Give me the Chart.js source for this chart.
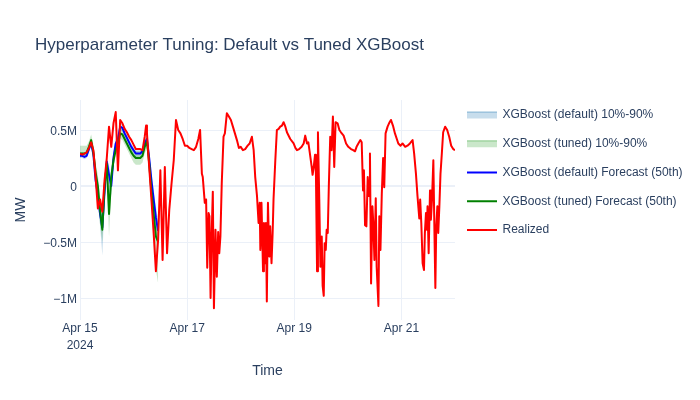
<!DOCTYPE html>
<html>
<head>
<meta charset="utf-8">
<title>Hyperparameter Tuning: Default vs Tuned XGBoost</title>
<script src="https://cdn.jsdelivr.net/npm/chart.js@4.4.1/dist/chart.umd.min.js"></script>
<style>
    html, body { margin: 0; padding: 0; background: #fff; }
    #wrap { width: 700px; height: 400px; }
</style>
</head>
<body>
<div id="wrap"><canvas id="tuningChart" width="700" height="400"></canvas></div>
<script>
        // Text
        const chartTitle = 'Hyperparameter Tuning: Default vs Tuned XGBoost';
        const xAxisTitle = 'Time';
        const yAxisTitle = 'MW';

        // Ticks (hours since Apr 15 2024 00:00)
        const xTickHours = [0, 48, 96, 144];
        const xTickLabels = [['Apr 15', '2024'], 'Apr 17', 'Apr 19', 'Apr 21'];
        const yTickValues = [-1000000, -500000, 0, 500000];
        const yTickLabels = ['\u22121M', '\u22120.5M', '0', '0.5M'];

        // Forecast horizon (hours)
        const forecastHours = [0, 1, 2, 3, 4, 5, 6, 7, 8, 9, 10, 11, 12, 13, 14, 15, 16, 17, 18, 19, 20, 21, 22, 23, 24, 25, 26, 27, 28, 29, 30, 31, 32, 33, 34, 35];

        const defaultP10 = [250000, 250000, 240000, 250000, 310000, 360000, 250000, 0, -150000, -350000, -620000, -150000, 170000, 0, -80000, 200000, 340000, 390000, 500000, 490000, 440000, 400000, 360000, 320000, 290000, 260000, 260000, 260000, 280000, 350000, 390000, 200000, -20000, -220000, -400000, -500000];
        const defaultP90 = [300000, 300000, 290000, 300000, 360000, 410000, 310000, 100000, 0, -150000, -300000, 50000, 260000, 180000, 80000, 300000, 420000, 460000, 570000, 550000, 500000, 460000, 420000, 380000, 350000, 320000, 320000, 320000, 340000, 410000, 450000, 300000, 120000, -30000, -180000, -300000];
        const defaultP50 = [270000, 270000, 260000, 270000, 330000, 380000, 280000, 50000, -80000, -250000, -370000, -50000, 220000, 100000, 0, 250000, 380000, 420000, 530000, 520000, 470000, 430000, 390000, 350000, 320000, 290000, 290000, 290000, 310000, 380000, 420000, 250000, 50000, -120000, -280000, -400000];

        const tunedP10 = [260000, 260000, 260000, 270000, 310000, 370000, 240000, 20000, -120000, -350000, -500000, -150000, 120000, -450000, -50000, 170000, 270000, 330000, 420000, 410000, 370000, 330000, 290000, 250000, 210000, 190000, 190000, 190000, 210000, 290000, 340000, 100000, -200000, -450000, -750000, -870000];
        const tunedP90 = [360000, 360000, 360000, 360000, 400000, 460000, 370000, 200000, 100000, -100000, -250000, 100000, 280000, -50000, 180000, 300000, 380000, 440000, 530000, 520000, 480000, 440000, 400000, 360000, 330000, 310000, 310000, 310000, 330000, 410000, 470000, 280000, 50000, -100000, -300000, -400000];
        const tunedP50 = [290000, 290000, 290000, 300000, 350000, 410000, 300000, 120000, 0, -220000, -390000, 0, 200000, -250000, 80000, 230000, 320000, 380000, 470000, 460000, 420000, 380000, 340000, 300000, 270000, 250000, 250000, 250000, 270000, 350000, 400000, 200000, -50000, -250000, -450000, -500000];

        // Realized net load
        const realizedHours = [
            0, 1, 2, 3, 4, 5, 6, 7, 8, 9, 10, 11, 12, 13, 14, 15, 16, 17, 18, 19, 20, 21, 22, 23,
            24, 25, 26, 27, 28, 29, 29.6, 30, 31, 32, 33, 34, 35, 36, 37, 38, 39, 40, 41, 42, 43, 44, 45, 46, 47,
            48, 49, 50, 51, 52, 53, 53.8, 54.6, 55, 55.9, 56.5, 57, 57.6, 58, 58.5, 59, 59.5, 60, 60.7, 61.3, 61.9, 62.4, 62.9, 63.5, 64.3, 64.9, 65.8, 66.7, 67.6, 68.5, 69.4, 70.3, 71.2,
            72, 73, 74, 75.1, 76, 77, 77.8, 78.5, 79.3, 80, 80.5, 80.8, 81.3, 82, 82.4, 82.8, 83.3, 83.7, 84.2, 84.8, 85.2, 85.8, 86.3, 86.7, 87.5, 88.2, 89, 89.7, 90.5, 91.2, 92, 92.7, 94.2, 95.7, 96.5,
            97.2, 98.2, 99.3, 100.2, 100.9, 101.7, 102.3, 103, 103.8, 104.2, 104.7, 105.3, 105.7, 106.2, 106.6, 107.2, 107.7, 108.3, 108.7, 109.2, 109.6, 110.1, 110.5, 111, 111.5, 112.1, 112.7, 113.3, 113.9, 114.5, 115.4, 116.2, 116.9, 118.1, 119.2, 120.2,
            121.4, 122.4, 123.2, 123.9, 124.7, 125.6, 126.2, 126.8, 127.2, 127.7, 128.3, 128.9, 129.5, 129.9, 130.4, 131, 131.4, 131.9, 132.5, 132.9, 133.7, 134.1, 134.6, 135.2, 135.8, 136.3, 136.9, 137.8, 138.7, 139.3, 140.2, 141.1, 142.6, 143.6,
            144.5, 145.7, 146.7, 147.8, 149, 149.7, 150.5, 151.2, 152, 152.4, 152.9, 153.5, 154.1, 154.5, 155, 155.4, 155.7, 156.2, 156.8, 157.2, 157.7, 158.3, 158.7, 159.2, 159.6, 160.1, 160.5, 161, 161.5, 162.1, 162.7, 163.6, 164.5, 165.4, 166.3, 167.2, 168
        ];
        const realizedMW = [
            290000, 280000, 290000, 300000, 340000, 390000, 320000, 80000, -200000, -120000, -230000, 50000, 250000, 530000, 350000, 560000, 660000, 140000, 590000, 560000, 510000, 480000, 440000, 410000,
            370000, 330000, 330000, 330000, 320000, 440000, 540000, 470000, 170000, -120000, -420000, -760000, -480000, 140000, -660000, 170000, -600000, -210000, 20000, 230000, 590000, 500000, 470000, 420000, 360000,
            360000, 340000, 330000, 320000, 350000, 420000, 500000, 110000, 80000, -150000, -120000, -730000, -240000, -270000, -1000000, -420000, -50000, -1090000, -390000, -810000, -410000, -600000, -450000, 20000, 440000, 470000, 650000, 620000, 590000, 530000, 470000, 410000, 340000,
            350000, 320000, 330000, 360000, 380000, 440000, 320000, 80000, -90000, -330000, -150000, -570000, -150000, -760000, -330000, -690000, -330000, -1030000, -150000, -630000, -360000, -690000, -420000, -120000, 230000, 500000, 510000, 530000, 540000, 570000, 530000, 480000, 420000, 380000, 340000,
            320000, 330000, 350000, 380000, 450000, 380000, 390000, 290000, 170000, 100000, 170000, 280000, 100000, -760000, 480000, -120000, -720000, -450000, -890000, -980000, -510000, -570000, -390000, -420000, 20000, 440000, 320000, 620000, 170000, 570000, 560000, 500000, 480000, 450000, 380000, 350000,
            330000, 320000, 310000, 350000, 380000, 410000, 390000, -40000, 140000, -350000, -360000, 80000, -90000, 290000, -870000, -180000, -330000, -660000, -110000, -720000, -1070000, -270000, -570000, -70000, 250000, -10000, 470000, 530000, 570000, 590000, 540000, 470000, 380000, 360000,
            380000, 350000, 360000, 380000, 410000, 290000, 110000, -90000, -290000, -120000, -330000, -690000, -750000, -420000, -240000, -390000, -180000, -600000, -40000, -300000, -120000, 230000, -300000, -910000, -360000, -180000, -420000, -180000, 110000, 290000, 480000, 530000, 500000, 440000, 360000, 330000, 320000
        ];

        const fontFamily = '"Liberation Sans", Arial, sans-serif';
        const textColor = '#2a3f5f';
        const gridColor = '#ebf0f8';

        Chart.defaults.font.family = fontFamily;
        Chart.defaults.color = textColor;

        function toPoints(xs, ys) {
            return xs.map((x, i) => ({ x: x, y: ys[i] }));
        }

        // titles + right-hand legend drawn plotly style
        const plotlyDecor = {
            id: 'plotlyDecor',
            afterDraw(chart) {
                const ctx = chart.ctx;
                const area = chart.chartArea;
                ctx.save();
                ctx.fillStyle = textColor;
                ctx.textBaseline = 'middle';
                ctx.textAlign = 'left';
                ctx.font = '17px ' + fontFamily;
                ctx.fillText(chartTitle, 35, 45);

                ctx.font = '14px ' + fontFamily;
                ctx.textAlign = 'center';
                ctx.fillText(xAxisTitle, (area.left + area.right) / 2, 371);
                ctx.save();
                ctx.translate(21, (area.top + area.bottom) / 2);
                ctx.rotate(-Math.PI / 2);
                ctx.fillText(yAxisTitle, 0, 0);
                ctx.restore();

                ctx.textAlign = 'left';
                ctx.font = '12px ' + fontFamily;
                let row = 0;
                chart.data.datasets.forEach(ds => {
                    if (!ds.label) return;
                    const y = 115 + row * 28.75;
                    if (ds.fill) {
                        ctx.fillStyle = ds.backgroundColor;
                        ctx.fillRect(467, y - 3.5, 30, 7);
                        ctx.fillRect(467, y - 3.5, 30, 1.5);
                    } else {
                        ctx.strokeStyle = ds.borderColor;
                        ctx.lineWidth = 2;
                        ctx.beginPath();
                        ctx.moveTo(467, y);
                        ctx.lineTo(497, y);
                        ctx.stroke();
                    }
                    ctx.fillStyle = textColor;
                    ctx.fillText(ds.label, 502.5, y);
                    row++;
                });
                ctx.restore();
            }
        };

        const bandLine = { borderWidth: 0, borderColor: 'rgba(0,0,0,0)', pointRadius: 0 };

        const ctx = document.getElementById('tuningChart').getContext('2d');
        const tuningChart = new Chart(ctx, {
            type: 'line',
            data: {
                datasets: [
                    { ...bandLine, label: '', data: toPoints(forecastHours, defaultP10), fill: false, order: 6 },
                    { ...bandLine, label: 'XGBoost (default) 10%-90%', data: toPoints(forecastHours, defaultP90), fill: '-1', backgroundColor: 'rgba(31,119,180,0.25)', order: 5 },
                    { ...bandLine, label: '', data: toPoints(forecastHours, tunedP10), fill: false, order: 4 },
                    { ...bandLine, label: 'XGBoost (tuned) 10%-90%', data: toPoints(forecastHours, tunedP90), fill: '-1', backgroundColor: 'rgba(44,160,44,0.25)', order: 3 },
                    { label: 'XGBoost (default) Forecast (50th)', data: toPoints(forecastHours, defaultP50), borderColor: '#0000ff', borderWidth: 2, pointRadius: 0, fill: false, order: 2 },
                    { label: 'XGBoost (tuned) Forecast (50th)', data: toPoints(forecastHours, tunedP50), borderColor: '#008000', borderWidth: 2, pointRadius: 0, fill: false, order: 1 },
                    { label: 'Realized', data: toPoints(realizedHours, realizedMW), borderColor: '#ff0000', borderWidth: 2, pointRadius: 0, fill: false, order: 0 }
                ]
            },
            options: {
                responsive: false,
                animation: false,
                layout: { padding: { left: 0, top: 100, right: 245, bottom: 0 } },
                elements: { line: { tension: 0, borderJoinStyle: 'round' } },
                plugins: {
                    legend: { display: false },
                    title: { display: false },
                    tooltip: { enabled: false }
                },
                scales: {
                    x: {
                        type: 'linear',
                        min: 0,
                        max: 168,
                        afterBuildTicks: scale => { scale.ticks = xTickHours.map(v => ({ value: v })); },
                        afterFit: scale => { scale.height = 80; },
                        grid: { color: gridColor, lineWidth: 1, drawTicks: false },
                        border: { display: false },
                        ticks: {
                            padding: 0,
                            maxRotation: 0,
                            autoSkip: false,
                            font: { size: 12, lineHeight: 1.4 },
                            callback: (value, index) => xTickLabels[index]
                        }
                    },
                    y: {
                        type: 'linear',
                        min: -1196000,
                        max: 768000,
                        afterBuildTicks: scale => { scale.ticks = yTickValues.map(v => ({ value: v })); },
                        afterFit: scale => { scale.width = 80; },
                        grid: {
                            color: gridColor,
                            lineWidth: c => (c.tick && c.tick.value === 0 ? 2 : 1),
                            drawTicks: false
                        },
                        border: { display: false },
                        ticks: {
                            padding: 3,
                            labelOffset: 1.5,
                            font: { size: 12 },
                            callback: (value, index) => yTickLabels[index]
                        }
                    }
                }
            },
            plugins: [plotlyDecor]
        });
</script>
</body>
</html>
